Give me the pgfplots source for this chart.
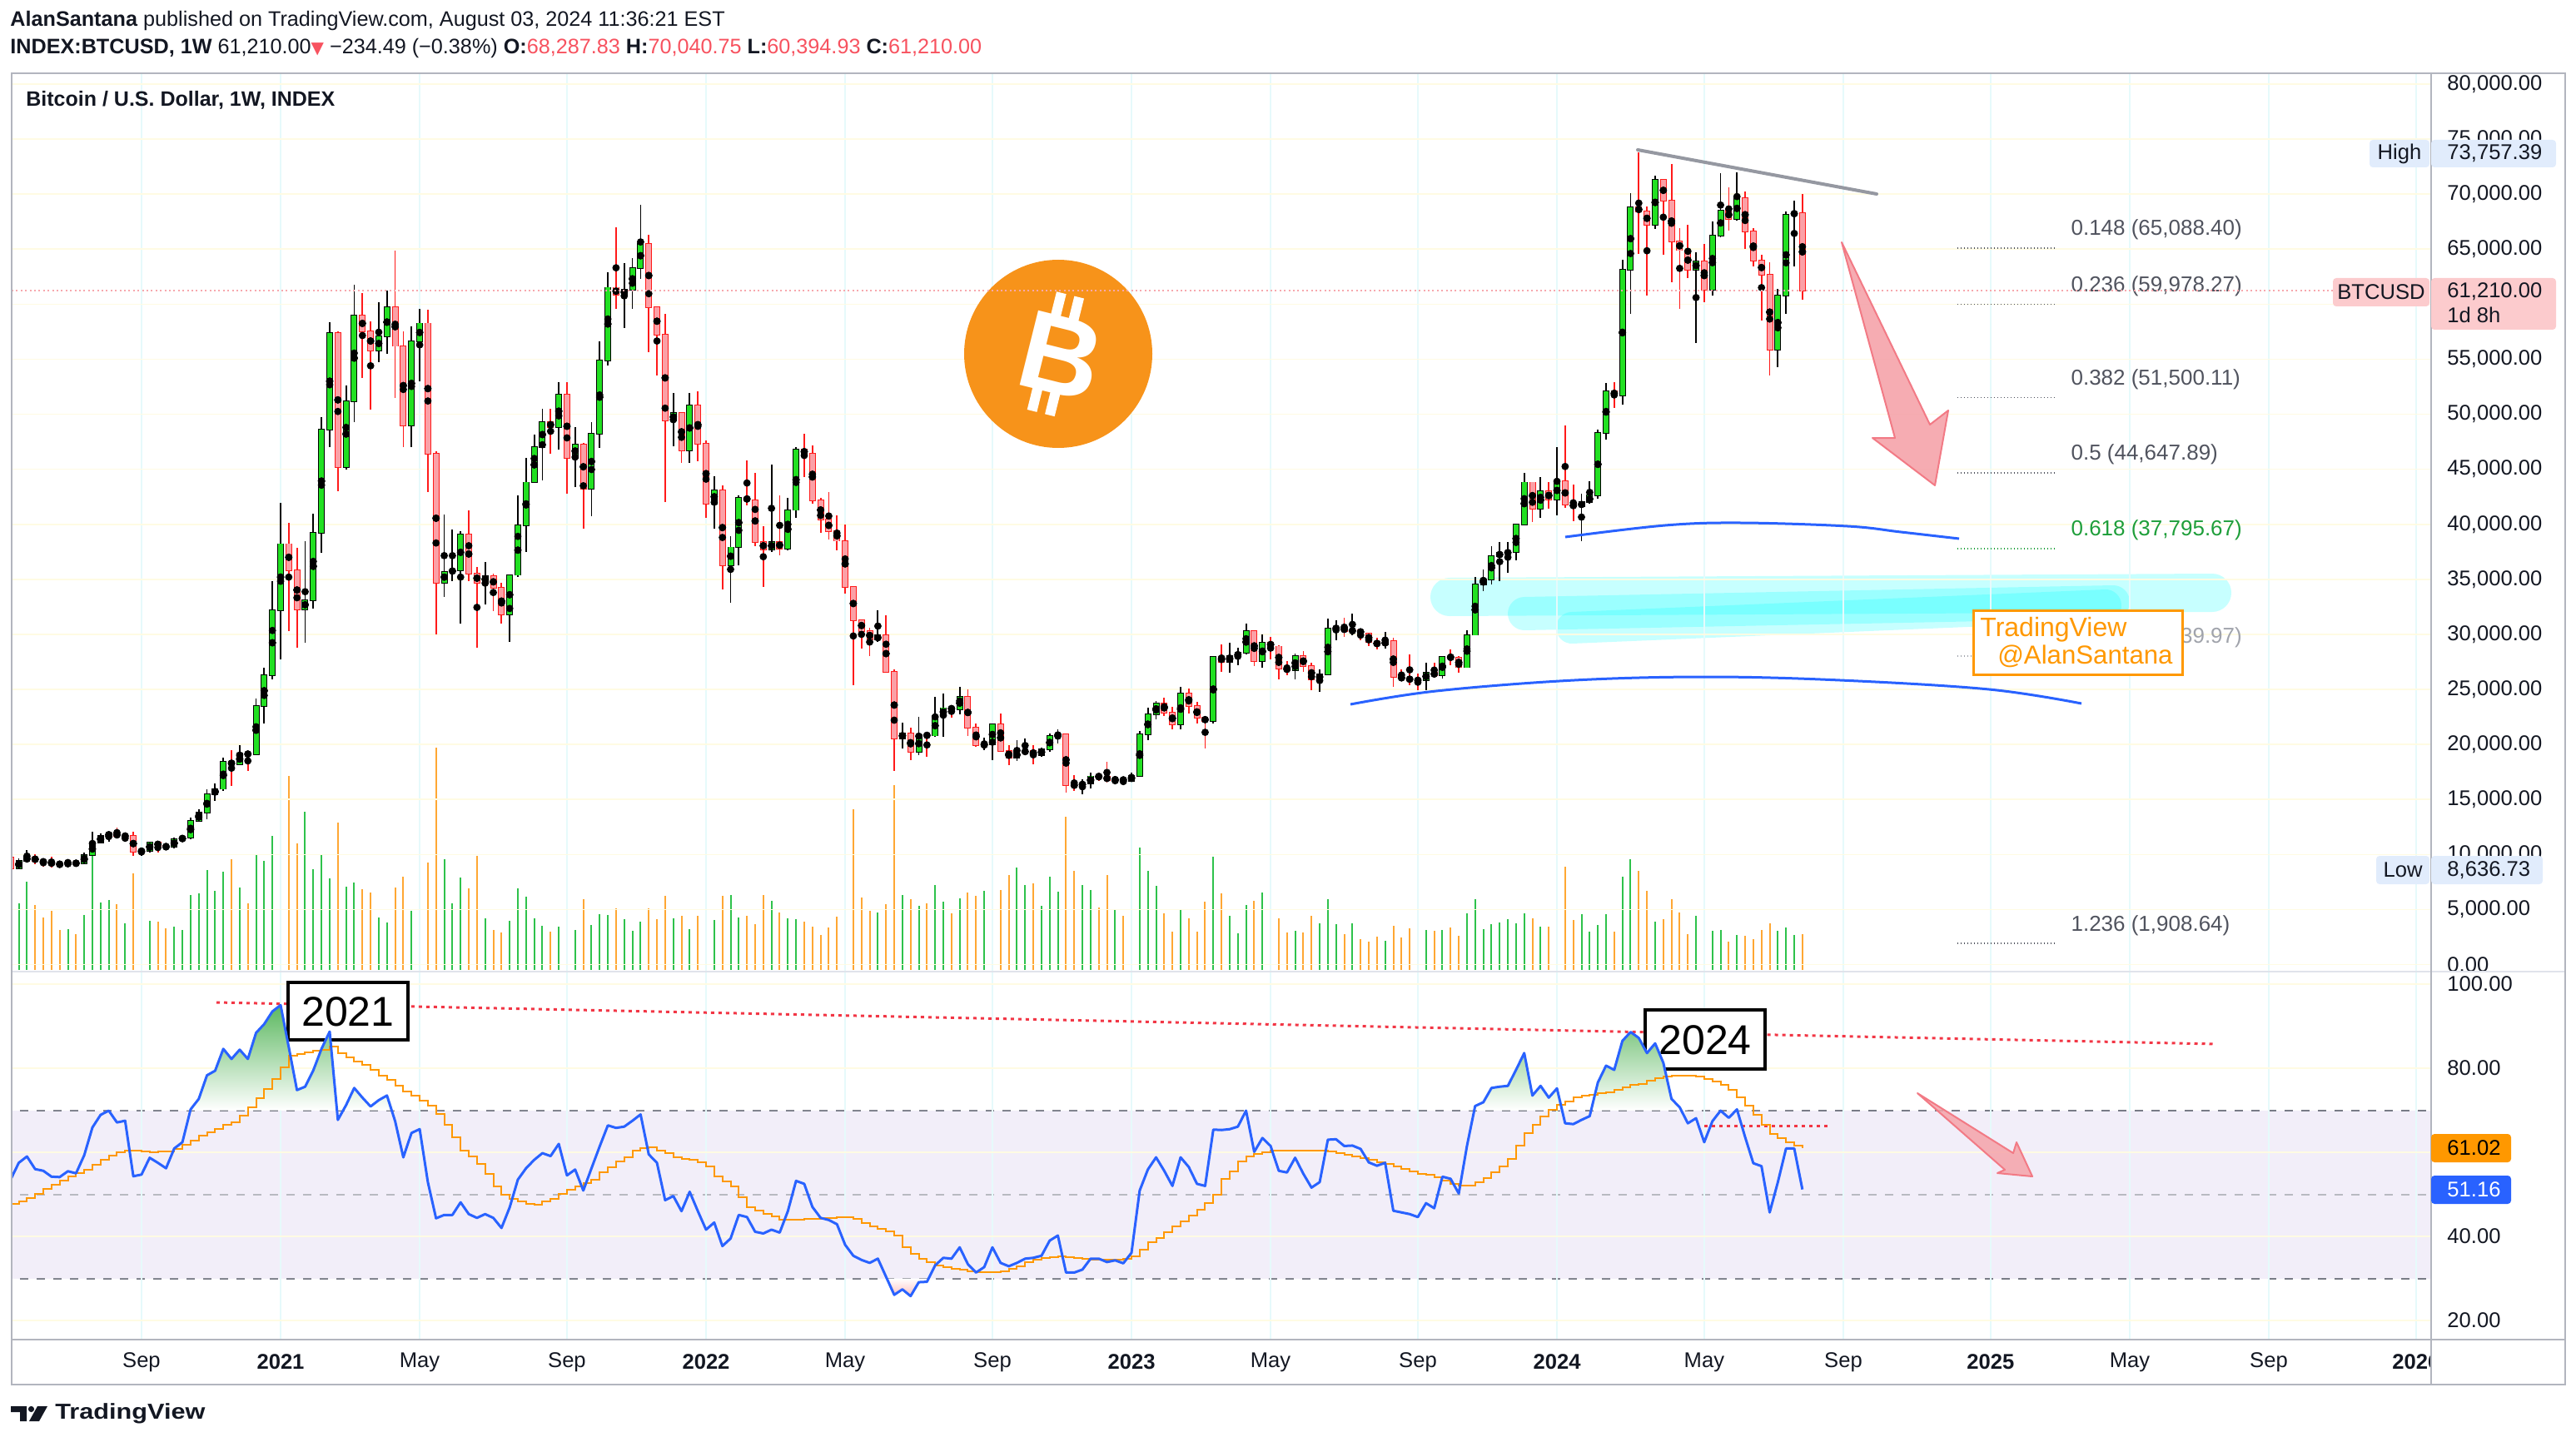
\documentclass[border=0pt]{standalone}
\usepackage{fontspec}
\setmainfont{Liberation Sans}
\newfontfamily\dejavu{DejaVu Sans}
\usepackage{pgfplots}
\usepackage{pgfplotstable}
\pgfplotsset{compat=1.18}

\newcommand\fs[1]{\fontsize{#1pt}{#1pt}\selectfont}

\definecolor{tvtext}{HTML}{131722}
\definecolor{tvred}{HTML}{F7525F}
\definecolor{upfill}{HTML}{22E022}
\definecolor{dnline}{HTML}{FF1A1A}
\definecolor{dnfill}{HTML}{FBA0A6}
\definecolor{volup}{HTML}{2EC24B}
\definecolor{voldn}{HTML}{FFA733}
\definecolor{rsiblue}{HTML}{2962FF}
\definecolor{rsiorange}{HTML}{FF9800}
\definecolor{band}{HTML}{F2EEF9}
\definecolor{border}{HTML}{B2B5BE}
\definecolor{sep}{HTML}{E0E3EB}
\definecolor{gridv}{HTML}{E6FAFB}
\definecolor{gridh}{HTML}{FFFBE3}
\definecolor{fibgray}{HTML}{50535E}
\definecolor{fiblight}{HTML}{A0A3AB}
\definecolor{fibgreen}{HTML}{1E9E3A}
\definecolor{btc}{HTML}{F7931A}
\definecolor{hilo}{HTML}{E1ECFC}
\definecolor{lastpink}{HTML}{FCCBCD}
\definecolor{lastdot}{HTML}{F7A8AD}
\definecolor{tvorange}{HTML}{FF9800}
\definecolor{trend}{HTML}{9598A1}
\definecolor{arrowfill}{HTML}{F5A3AA}
\definecolor{arrowline}{HTML}{F27A85}
\definecolor{rsired}{HTML}{F23645}
\definecolor{obgreen}{HTML}{5CB860}
\definecolor{dashgray}{HTML}{787B86}
\definecolor{midgray}{HTML}{B8BAC1}
\definecolor{hilite}{RGB}{0,255,255}

% weekly candles, x = weeks from 4 Jan 2021, v = relative volume
\pgfplotstableread{
x o h l c v
-32 8720 9620 8640 9450 80
-31 9450 10430 9270 9750 106
-26 9080 9480 9050 9240 49
-24 9170 10150 9140 9930 66
-23 9930 12100 9900 11070 137
-22 11070 11900 11000 11680 81
-21 11680 12100 11150 11910 84
-19 11650 11800 11150 11700 56
-17 10280 10580 9880 10330 68
-16 10330 11100 10200 11080 59
-13 10670 11500 10550 11380 52
-12 11380 11730 11200 11500 48
-11 11500 13350 11410 13030 90
-10 13030 14100 12950 13780 92
-9 13780 15950 13200 15480 120
-8 15480 16480 14850 15960 95
-7 15960 18800 15800 18400 118
-5 18180 19900 18150 19150 99
-3 19100 24200 19000 23480 138
-2 23480 27000 21900 26270 131
-1 26270 34800 25900 32200 161
0 32200 41950 27700 38200 237
3 32260 38500 29250 33110 190
4 33110 40950 32300 39250 121
5 39250 49700 37400 48600 139
6 48600 58350 47000 57400 110
8 45200 52600 45000 51200 100
9 51200 61800 49300 59000 105
12 55800 60200 54700 57050 63
13 57050 61200 55500 59700 57
16 49000 58000 47050 56600 71
17 56600 59600 53000 58250 90
20 34700 40900 33400 35700 133
21 35700 39500 34800 35800 80
22 35800 39400 31000 39100 111
25 34700 36600 32700 35300 62
28 31800 35400 29300 35400 59
29 35400 42600 35200 39900 98
30 39900 46000 37500 43800 88
31 43800 48150 43800 47000 62
32 47000 50500 43950 49300 53
34 48800 52900 46800 51750 52
36 46060 48800 43400 47250 48
38 43200 49250 40700 48200 54
39 48200 56600 46900 54900 67
40 54900 62900 54400 61500 66
42 60860 63700 57800 61300 61
43 61300 64200 59600 63300 47
44 63300 69000 62300 65500 58
48 49400 51900 47100 50100 62
50 46700 51900 45600 50800 49
53 41900 44400 39600 43100 60
55 36300 38900 32900 37900 90
56 37900 42600 36300 42400 63
60 37700 45400 37500 38400 83
62 37800 42400 37600 41300 62
63 41300 47000 40600 46800 61
73 29500 32200 29300 29900 69
76 20550 22000 19600 21000 90
78 19300 22500 19000 20850 77
80 20800 24300 20700 22600 102
81 22600 24600 20700 23300 82
83 23200 25200 22700 24300 86
86 19900 20600 19500 20000 95
87 20000 21800 18600 21800 95
90 18800 20400 18500 19300 123
91 19300 20500 19300 19400 102
93 19050 19700 18900 19550 77
94 19550 21000 19300 20800 112
95 20800 21400 20100 20900 94
98 16280 16800 15500 16450 102
99 16450 17400 16000 17100 96
102 16750 17000 16400 16850 72
104 16700 17400 16600 17130 58
105 17130 21200 17100 20900 147
106 20900 23300 20400 22700 119
107 22700 23950 22300 23750 101
110 21800 25250 21400 24600 72
114 22100 28000 21900 27950 136
116 27500 29200 26500 28000 65
117 28000 28800 27200 28300 44
118 28300 31000 28200 30300 78
120 27600 30000 26950 29250 93
124 26750 28250 25900 28050 47
127 25900 26800 24800 26350 56
128 26350 31400 26250 30500 85
129 30500 31300 29500 30600 55
131 30300 31850 29950 30350 56
135 29050 30250 28700 29400 35
140 25800 27450 24900 26550 48
142 26250 28000 26000 27950 48
145 27000 30400 26950 29950 68
146 29950 35200 29900 34500 85
147 34500 35900 33900 35000 49
148 35000 38000 34500 37100 55
149 37100 38400 34800 37400 57
150 37400 38400 35600 37450 61
151 37450 40000 36700 39950 56
152 39950 44700 39950 43800 68
154 41400 44300 40600 43000 52
156 42250 47000 40800 43900 76
159 41600 42800 38500 42000 67
160 42000 43900 41900 42600 46
161 42600 48600 42300 48300 54
162 48300 52800 47700 52100 67
164 51700 64000 50900 63100 112
165 63100 70100 59100 68800 133
168 67200 71700 66800 71280 58
173 63100 64700 56500 63900 65
175 61300 67500 60800 66250 47
176 66250 71900 66100 68500 48
178 67750 71950 67600 69650 42
183 55850 61400 54300 60800 47
184 60800 68400 59100 68150 51
185 68150 69400 63450 68288 42
}\up

\pgfplotstableread{
x o h l c v
-33 9700 9900 8637 8720 109
-30 9750 9990 9150 9380 78
-29 9380 9590 8910 9300 63
-28 9300 9800 8830 9120 71
-27 9120 9310 8950 9080 48
-25 9240 9340 9050 9170 43
-20 11910 12470 11500 11650 79
-18 11700 12090 9900 10280 116
-15 11080 11100 10150 10770 58
-14 10770 10970 10400 10670 50
-6 18400 19480 16200 18180 133
-4 19150 19400 17600 19100 80
1 38200 40100 30300 35800 233
2 35800 37850 28800 32260 152
7 57400 57500 43000 45200 177
10 59000 61000 53300 57500 97
11 57500 58400 50400 55800 93
14 59700 64850 51500 56200 99
15 56200 57500 47000 49000 112
18 58250 59500 42900 46400 129
19 46400 46600 30000 34700 267
23 39100 41300 34800 35500 98
24 35500 36100 28800 34700 137
26 35300 35500 32100 34240 48
27 34240 34700 31000 31800 45
33 49300 50500 46400 48800 46
35 51750 52900 42800 46060 68
37 47250 47400 39600 43200 85
41 61500 67000 59600 60860 74
45 65500 66300 55600 59700 74
46 59700 59800 53500 57200 61
47 57200 59100 42000 49400 89
49 50100 50200 45600 46700 65
51 50800 52100 45700 47300 65
52 47300 47600 40600 41900 73
54 43100 43500 34100 36300 89
57 42400 45800 41700 42200 65
58 42200 44700 38000 38400 55
59 38400 39800 34300 37700 90
61 38400 42600 37200 37800 69
64 46800 48200 44300 46400 58
65 46400 47200 41900 42200 52
66 42200 42400 39200 40400 42
67 40400 42900 38600 39400 51
68 39400 40800 37600 38500 64
69 38500 40000 33700 34300 84
70 34300 34300 25400 31300 193
71 31300 31300 28700 30300 87
72 30300 30600 28000 29500 71
74 29900 31700 26500 26600 79
75 26600 26800 17600 20550 222
77 21000 21500 18600 19300 85
79 20850 21000 18900 20800 80
82 23300 23600 22400 23200 68
84 24300 25000 20800 21500 93
85 21500 21900 19800 19900 89
88 21800 22800 19300 19400 96
89 19400 19900 18100 18800 114
92 19400 19900 18200 19050 104
96 20900 21000 15600 16300 184
97 16300 17200 15800 16280 119
100 17100 17400 16700 17080 75
101 17080 18400 16500 16750 114
103 16850 16950 16300 16700 65
108 23750 24250 22600 22900 68
109 22900 23400 21400 21800 46
111 24600 25100 22800 23500 62
112 23500 23900 21900 22400 46
113 22400 22600 19600 22100 82
115 27950 29100 26600 27500 92
119 30300 30300 27150 27600 83
121 29250 29800 27700 28900 73
122 28900 29000 25900 26900 62
123 26900 27600 26300 26750 45
125 28050 28450 26600 27100 45
126 27100 27400 24900 25900 65
130 30600 31500 29800 30300 43
132 30350 30350 29500 30100 37
133 30100 30100 28900 29300 34
134 29300 29700 28600 29050 40
136 29400 29700 25200 26100 53
137 26100 26800 25800 26000 39
138 26000 28150 25400 25850 50
139 25850 26400 24900 25800 32
141 26550 27450 26050 26250 47
143 27950 28600 27200 27900 51
144 27900 28000 26550 27000 41
153 43800 43800 40200 41400 62
155 43000 43800 41400 42250 52
157 43900 49000 41500 41800 124
158 41800 43600 40300 41600 60
163 52100 52900 50600 51700 46
166 68800 73757 64600 68400 119
167 68400 68900 60800 67200 95
169 71280 71300 64500 69400 61
170 69400 72700 62000 65700 85
171 65700 66900 59600 64900 69
172 64900 67200 62400 63100 43
174 63900 65500 60200 61300 35
177 68500 70600 66700 67750 34
179 69650 70200 65000 66600 41
180 66600 66900 63400 63950 37
181 63950 64500 58500 62700 48
182 62700 63800 53500 55850 56
186 68288 70041 60395 61210 43
}\dn

% RSI (r) and its moving average (m)
\pgfplotstableread{
x r m
-33 53.5 47.7
-32 57.5 48.3
-31 59.0 49.2
-30 56.0 50.2
-29 55.6 51.2
-28 54.2 52.3
-27 54.1 53.3
-26 55.5 54.3
-25 55.0 55.0
-24 59.3 55.8
-23 65.9 57.0
-22 68.9 58.2
-21 69.9 59.3
-20 67.1 60.0
-19 67.5 60.4
-18 54.3 60.4
-17 54.7 60.2
-16 58.7 60.1
-15 57.5 60.2
-14 56.2 60.3
-13 60.9 60.8
-12 62.4 61.8
-11 70.2 62.8
-10 72.7 64.0
-9 78.3 64.8
-8 79.4 65.6
-7 84.6 66.5
-6 82.2 67.2
-5 84.4 68.8
-4 82.2 70.6
-3 88.4 72.8
-2 90.5 75.0
-1 93.5 77.4
0 95.0 80.3
1 85.0 82.9
2 74.8 83.3
3 75.6 83.8
4 79.5 84.1
5 84.6 84.4
6 88.7 85.2
7 67.7 83.5
8 71.2 82.5
9 75.3 81.6
10 73.0 80.8
11 70.9 79.6
12 72.4 78.2
13 73.5 77.2
14 67.4 75.8
15 58.8 74.5
16 64.6 73.4
17 65.5 72.2
18 52.9 71.0
19 44.3 69.2
20 45.1 66.5
21 45.1 63.5
22 48.1 60.5
23 45.3 59.1
24 44.4 57.3
25 45.3 54.8
26 44.4 51.8
27 42.0 50.0
28 46.9 48.9
29 53.5 48.3
30 56.2 47.8
31 58.2 47.6
32 59.8 48.3
33 59.1 49.0
34 62.0 50.2
35 54.5 51.0
36 55.9 51.8
37 50.9 52.6
38 56.2 53.5
39 61.4 55.2
40 66.4 56.5
41 65.8 57.8
42 66.1 58.8
43 67.5 60.4
44 69.0 61.0
45 59.5 61.1
46 57.5 60.4
47 48.6 59.8
48 49.6 58.9
49 46.0 58.5
50 50.6 58.2
51 46.0 57.6
52 41.6 56.6
53 43.3 54.3
54 37.7 53.0
55 39.5 51.8
56 45.1 49.3
57 44.6 46.9
58 41.1 46.2
59 40.7 45.3
60 41.6 44.7
61 40.9 44.0
62 46.0 44.0
63 53.2 44.0
64 52.5 44.1
65 47.0 44.2
66 44.4 44.3
67 43.9 44.4
68 42.9 44.5
69 38.0 44.6
70 35.4 44.1
71 34.4 43.2
72 33.7 42.4
73 34.7 41.8
74 30.4 41.1
75 26.1 40.3
76 27.4 37.5
77 25.8 35.8
78 29.1 34.7
79 29.2 33.8
80 33.1 33.0
81 34.9 32.6
82 34.7 32.2
83 37.4 32.0
84 33.4 31.7
85 31.4 31.5
86 32.7 31.4
87 37.4 31.5
88 33.7 31.7
89 32.9 32.2
90 33.7 32.8
91 34.7 33.8
92 34.9 34.4
93 35.4 34.8
94 39.0 35.0
95 40.2 35.2
96 31.4 35.0
97 31.4 34.8
98 32.1 34.6
99 34.7 34.5
100 34.7 34.5
101 33.9 34.5
102 34.3 34.5
103 33.6 34.7
104 36.1 35.2
105 50.9 36.9
106 55.9 38.7
107 58.8 39.6
108 55.6 41.0
109 52.0 42.3
110 58.8 43.5
111 56.5 44.9
112 52.5 46.4
113 52.0 48.0
114 65.4 50.0
115 65.3 53.6
116 65.5 55.4
117 66.1 57.8
118 69.9 59.1
119 60.1 59.6
120 63.4 60.1
121 61.5 60.4
122 55.6 60.5
123 55.2 60.5
124 58.7 60.5
125 54.9 60.5
126 51.6 60.5
127 52.9 60.5
128 63.0 60.2
129 63.1 59.9
130 61.5 59.5
131 61.6 59.1
132 60.8 58.6
133 57.6 58.2
134 56.8 57.7
135 57.5 57.3
136 46.1 56.6
137 45.7 56.1
138 45.3 55.4
139 44.6 54.9
140 47.9 54.6
141 46.7 54.1
142 54.2 53.3
143 53.7 52.5
144 50.2 52.1
145 61.5 52.1
146 71.0 52.9
147 71.9 53.9
148 75.3 55.3
149 75.6 56.6
150 75.8 58.5
151 79.6 61.6
152 83.6 64.5
153 73.5 66.5
154 75.8 68.5
155 73.0 70.2
156 75.2 71.2
157 66.9 72.0
158 66.7 73.0
159 67.7 73.5
160 68.6 73.7
161 76.6 74.0
162 80.6 74.2
163 79.6 74.8
164 86.5 75.5
165 88.6 76.0
166 87.2 76.3
167 83.6 77.0
168 85.9 77.7
169 81.3 78.1
170 72.7 78.3
171 70.7 78.3
172 66.9 78.3
173 68.1 78.1
174 62.4 77.5
175 67.4 76.8
176 69.9 76.0
177 68.2 74.8
178 70.2 73.0
179 63.6 71.0
180 57.4 69.0
181 56.7 66.5
182 45.7 64.3
183 52.9 63.3
184 60.9 62.4
185 60.9 61.5
186 51.16 61.02
}\rsi

\pgfplotsset{
  pane/.style={scale only axis, width=1453pt, xmin=-32.87, xmax=262.85,
    anchor=north west, axis line style={draw=none}, major tick length=0pt,
    tick style={draw=none},
    xtick={-17,0,17,35,52,69,87,104,121,139,156,174,191,209,226,243,261}},
  candle/.style n args={3}{only marks, mark=none, forget plot,
    error bars/.cd, y dir=both, y explicit, error mark=none,
    error bar style={line width=#2, draw=#1}},
}

\begin{document}
\begin{tikzpicture}
\useasboundingbox (0,0) rectangle (1547pt,-869pt);

% volume
\begin{axis}[pane, at={(7pt,-44pt)}, height=539.5pt, ymin=-2, ymax=1077, hide axis]
\addplot[ycomb, volup, line width=1pt, mark=none] table[x=x,y=v]{\up};
\addplot[ycomb, voldn, line width=1pt, mark=none] table[x=x,y=v]{\dn};
\end{axis}

% highlighter strokes
\begin{scope}[x=0.5pt,y=-0.5pt]
\draw[hilite, draw opacity=0.22, line width=23pt, line cap=round] (1741,717) -- (2657,712);
\draw[hilite, draw opacity=0.22, line width=20pt, line cap=round] (1831,737) -- (2538,723);
\draw[hilite, draw opacity=0.22, line width=19pt, line cap=round] (1888,754) -- (2529,727);
\end{scope}

% price pane
\begin{axis}[pane, at={(7pt,-44pt)}, height=539.5pt, ymin=-643, ymax=80976,
  xticklabels={}, ytick={0,5000,...,80000}, yticklabel pos=right, scaled y ticks=false,
  /pgf/number format/assume math mode=true,
  grid=major, x grid style={gridv, line width=0.8pt}, y grid style={gridh, line width=0.8pt},
  yticklabel style={font=\fs{12.8}, text=tvtext, anchor=west, inner sep=0pt, xshift=9.5pt,
    /pgf/number format/.cd, fixed, fixed zerofill, precision=2, 1000 sep={,}}]
% up candles
\addplot[candle={black}{0.9pt}{}] table[x=x, y expr={(\thisrow{h}+\thisrow{l})/2}, y error expr={(\thisrow{h}-\thisrow{l})/2}]{\up};
\addplot[candle={black}{4pt}{}] table[x=x, y expr={(\thisrow{o}+\thisrow{c})/2}, y error expr={abs(\thisrow{c}-\thisrow{o})/2+70}]{\up};
\addplot[candle={upfill}{3pt}{}] table[x=x, y expr={(\thisrow{o}+\thisrow{c})/2}, y error expr={abs(\thisrow{c}-\thisrow{o})/2}]{\up};
% down candles
\addplot[candle={dnline}{0.9pt}{}] table[x=x, y expr={(\thisrow{h}+\thisrow{l})/2}, y error expr={(\thisrow{h}-\thisrow{l})/2}]{\dn};
\addplot[candle={dnline}{4pt}{}] table[x=x, y expr={(\thisrow{o}+\thisrow{c})/2}, y error expr={abs(\thisrow{c}-\thisrow{o})/2+70}]{\dn};
\addplot[candle={dnfill}{3pt}{}] table[x=x, y expr={(\thisrow{o}+\thisrow{c})/2}, y error expr={abs(\thisrow{c}-\thisrow{o})/2}]{\dn};
% fibonacci levels
\foreach \lv/\lab/\col in {65088.40/{0.148 (65,088.40)}/fibgray, 59978.27/{0.236 (59,978.27)}/fibgray,
  51500.11/{0.382 (51,500.11)}/fibgray, 44647.89/{0.5 (44,647.89)}/fibgray,
  37795.67/{0.618 (37,795.67)}/fibgreen, 28039.97/{0.786 (28,039.97)}/fiblight,
  1908.64/{1.236 (1,908.64)}/fibgray}{
  \edef\tmp{\noexpand\draw[\col, line width=0.8pt, dash pattern=on 0.6pt off 1.4pt] (axis cs:204.9,\lv) -- (axis cs:216.75,\lv);
   \noexpand\node[anchor=west, inner sep=0pt, text=\col, font=\noexpand\fs{13}, yshift=11pt] at (axis cs:218.8,\lv) {\lab};}
  \tmp
}
\end{axis}

% drawings on the price pane
\begin{scope}[x=0.5pt,y=-0.5pt]
\fill[btc] (1271,425) circle[radius=113];
\begin{scope}[shift={(1271,425)}, rotate=-14, x=0.5pt, y=0.5pt]
  \node[text=white, font=\bfseries\fs{67}, inner sep=0pt, rotate=-14] at (4,-2) {B};
  \fill[white] (-20,42) rectangle (-8,72);
  \fill[white] (2,42) rectangle (14,72);
  \fill[white] (-20,-46) rectangle (-8,-74);
  \fill[white] (2,-46) rectangle (14,-74);
\end{scope}
\draw[lastdot, line width=1pt, dash pattern=on 1pt off 1.7pt] (14,349.3) -- (2920,349.3);
\draw[rsiblue, line width=1.5pt] plot[smooth, tension=0.6] coordinates {(1880,645) (2000,631) (2091,628) (2219,632) (2283,639) (2353,647)};
\draw[rsiblue, line width=1.5pt] plot[smooth, tension=0.6] coordinates {(1622,846) (1725,830) (1891,817) (2051,813) (2210,817) (2389,828) (2500,845)};
\draw[trend, line width=2pt, line cap=round] (1967,180) -- (2254,233);
\filldraw[fill=arrowfill, draw=arrowline, line width=1pt, line join=round, fill opacity=0.9]
  (2212,291) -- (2276,526) -- (2249,526) -- (2324,583) -- (2340,493) -- (2318,510) -- cycle;
\draw[tvorange, line width=1.5pt, fill=white] (2370,733) rectangle (2621,810);
\node[anchor=west, inner sep=0pt, text=tvorange, font=\fs{16}] at (2378,756) {TradingView};
\node[anchor=east, inner sep=0pt, text=tvorange, font=\fs{15.6}] at (2610,788) {@AlanSantana};
\end{scope}

% RSI pane background
\begin{axis}[pane, at={(7pt,-583.5pt)}, height=221pt, ymin=15.45, ymax=102.97, axis on top,
  xticklabels={Sep,\textbf{2021},May,Sep,\textbf{2022},May,Sep,\textbf{2023},May,Sep,\textbf{2024},May,Sep,\textbf{2025},May,Sep,\textbf{2026}},
  xticklabel style={font=\fs{12.8}, text=tvtext, anchor=center, yshift=-13.5pt},
  ytick={20,40,60,80,100}, yticklabel pos=right,
  /pgf/number format/assume math mode=true,
  grid=major, x grid style={gridv, line width=0.8pt}, y grid style={gridh, line width=0.8pt},
  yticklabel style={font=\fs{12.8}, text=tvtext, anchor=west, inner sep=0pt, xshift=9.5pt,
    /pgf/number format/.cd, fixed, fixed zerofill, precision=2}]
\fill[band] (axis cs:-40,30) rectangle (axis cs:270,70);
\draw[dashgray, line width=1pt, dash pattern=on 5pt off 5pt] (axis cs:-40,70) -- (axis cs:270,70);
\draw[dashgray, line width=1pt, dash pattern=on 5pt off 5pt] (axis cs:-40,30) -- (axis cs:270,30);
\draw[midgray, line width=1pt, dash pattern=on 5pt off 5pt] (axis cs:-40,50) -- (axis cs:270,50);
\end{axis}

\begin{scope}[x=0.5pt,y=-0.5pt]
\draw[rsired, line width=1.5pt, dash pattern=on 2pt off 2.5pt] (260,1204) -- (2662,1254);
\draw[rsired, line width=1.5pt, dash pattern=on 2pt off 2.5pt] (2047,1352.7) -- (2195,1352.7);
\draw[black, line width=2pt, fill=white] (346,1180) rectangle (490,1249);
\node[font=\fs{25}, text=black] at (418,1215) {2021};
\draw[black, line width=2pt, fill=white] (1976,1213) rectangle (2120,1284);
\node[font=\fs{25}, text=black] at (2048,1249) {2024};
\end{scope}

% RSI lines
\begin{axis}[pane, at={(7pt,-583.5pt)}, height=221pt, ymin=15.45, ymax=102.97, hide axis]
\addplot[draw=none, top color=obgreen, bottom color=white] table[x=x, y expr={max(\thisrow{r},70)}]{\rsi} -- (axis cs:186,70) -- (axis cs:-33,70) -- cycle;
\addplot[draw=none, top color=white, bottom color=red!25] table[x=x, y expr={min(\thisrow{r},30)}]{\rsi} -- (axis cs:186,30) -- (axis cs:-33,30) -- cycle;
\addplot[rsiorange, line width=1pt, const plot, mark=none] table[x=x,y=m]{\rsi};
\addplot[rsiblue, line width=1.5pt, mark=none, line join=round] table[x=x,y=r]{\rsi};
\end{axis}

\begin{scope}[x=0.5pt,y=-0.5pt]
\filldraw[fill=arrowfill, draw=arrowline, line width=1pt, line join=round, fill opacity=0.85]
  (2303,1313) -- (2408,1405) -- (2399,1409) -- (2441,1413) -- (2422,1372) -- (2418,1385) -- cycle;
% frame
\fill[white] (2921,1612) rectangle (2995,1660);
\draw[sep, line width=0.6pt] (14,1167) -- (3081,1167);
\draw[border, line width=1pt] (14,88) rectangle (3081,1663);
\draw[border, line width=1pt] (2920,88) -- (2920,1663);
\draw[border, line width=1pt] (14,1609) -- (3081,1609);
% price scale labels
\fill[hilo, rounded corners=2pt] (2846,168) rectangle (2918,201);
\node[font=\fs{12.8}, text=tvtext] at (2882,184.5) {High};
\fill[hilo, rounded corners=2pt] (2920,168) rectangle (3070,201);
\node[anchor=west, inner sep=0pt, font=\fs{12.8}, text=tvtext] at (2939,184.5) {73,757.39};
\fill[lastpink, rounded corners=2pt] (2802,334) rectangle (2918,368);
\node[font=\fs{12.8}, text=tvtext] at (2860,351) {BTCUSD};
\fill[lastpink, rounded corners=2pt] (2920,334) rectangle (3070,396);
\node[anchor=west, inner sep=0pt, font=\fs{12.8}, text=tvtext] at (2939,350) {61,210.00};
\node[anchor=west, inner sep=0pt, font=\fs{12.8}, text=tvtext] at (2939,378) {1d 8h};
\fill[hilo, rounded corners=2pt] (2854,1028) rectangle (2918,1062);
\node[font=\fs{12.8}, text=tvtext] at (2886,1045) {Low};
\fill[hilo, rounded corners=2pt] (2920,1028) rectangle (3054,1062);
\node[anchor=west, inner sep=0pt, font=\fs{12.8}, text=tvtext] at (2939,1045) {8,636.73};
\fill[rsiorange, rounded corners=2pt] (2920,1362) rectangle (3016,1396);
\node[anchor=west, inner sep=0pt, font=\fs{12.8}, text=black] at (2939,1379) {61.02};
\fill[rsiblue, rounded corners=2pt] (2920,1412) rectangle (3016,1446);
\node[anchor=west, inner sep=0pt, font=\fs{12.8}, text=white] at (2939,1429) {51.16};
% header
\node[anchor=west, inner sep=0pt, font=\fs{12.6}, text=tvtext] at (12,25)
  {\textbf{AlanSantana} published on TradingView.com, August 03, 2024 11:36:21 EST};
\node[anchor=west, inner sep=0pt, font=\fs{12.6}, text=tvtext] at (12,58)
  {\textbf{INDEX:BTCUSD, 1W} 61,210.00{\color{tvred}\dejavu\fs{10}▼} −234.49 (−0.38\%) \textbf{O:}{\color{tvred}68,287.83} \textbf{H:}{\color{tvred}70,040.75} \textbf{L:}{\color{tvred}60,394.93} \textbf{C:}{\color{tvred}61,210.00}};
\node[anchor=west, inner sep=0pt, font=\bfseries\fs{12.5}, text=tvtext] at (31,120) {Bitcoin / U.S. Dollar, 1W, INDEX};
% TradingView logo
\fill[tvtext] (13,1689) -- (32,1689) -- (32,1707) -- (24,1707) -- (24,1696) -- (13,1696) -- cycle;
\fill[tvtext] (37.5,1692.5) circle[radius=3.6];
\fill[tvtext] (45,1689) -- (57,1689) -- (47,1707) -- (35,1707) -- cycle;
\node[anchor=west, inner sep=0pt, text=tvtext] at (66,1698) {\scalebox{1.18}[1]{\bfseries\fs{13}TradingView}};
\end{scope}
\end{tikzpicture}
\end{document}
